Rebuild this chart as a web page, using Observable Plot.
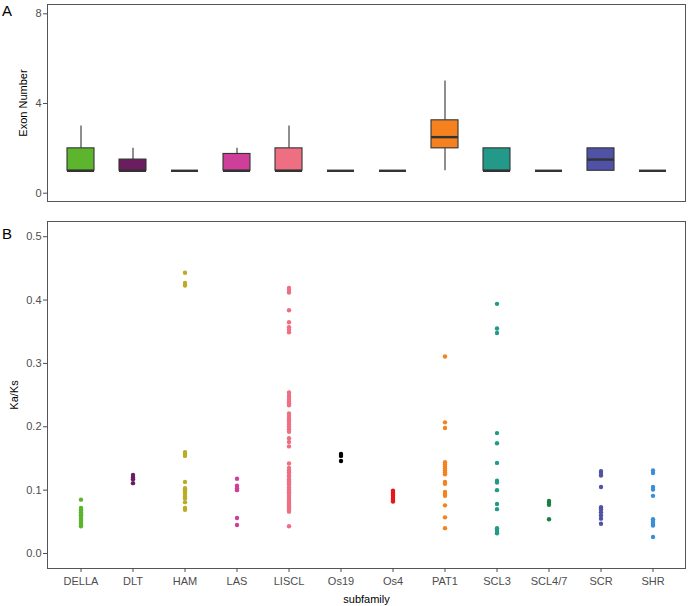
<!DOCTYPE html>
<html>
<head>
<meta charset="utf-8">
<script src="https://cdn.jsdelivr.net/npm/d3@7"></script>
<script src="https://cdn.jsdelivr.net/npm/@observablehq/plot@0.6"></script>
<style>
  body { margin: 0; background: #fff; font-family: "Liberation Sans", Arial, sans-serif; }
  #wrap { position: relative; width: 689px; height: 606px; }
  .tag { position: absolute; font-size: 15px; color: #000; }
  svg { display: block; }
</style>
</head>
<body>
<div id="wrap">
  <div id="panelA"></div>
  <div id="panelB"></div>
  <div class="tag" style="left:2px;top:2px;">A</div>
  <div class="tag" style="left:2px;top:225px;">B</div>
</div>
<script>
// Categories and colours
const subfamilies = ["DELLA","DLT","HAM","LAS","LISCL","Os19","Os4","PAT1","SCL3","SCL4/7","SCR","SHR"];
const colors = ["#5cb52c","#6b1d5f","#bcab25","#cd3f98","#ee6f82","#000000","#e5161c","#f5821f","#23998a","#1a8040","#5052a6","#3a8ed8"];

// Panel A: exon number box summaries
const exonLow    = [1, 1, 1, 1,    1, 1, 1, 1,    1, 1, 1,   1];
const exonQ1     = [1, 1, 1, 1,    1, 1, 1, 2,    1, 1, 1,   1];
const exonMedian = [1, 1, 1, 1,    1, 1, 1, 2.5,  1, 1, 1.5, 1];
const exonQ3     = [2, 1.5, 1, 1.75, 2, 1, 1, 3.25, 2, 1, 2,   1];
const exonHigh   = [3, 2, 1, 2,    3, 1, 1, 5,    2, 1, 2,   1];
const exonTicks  = [0, 4, 8];

// Panel B: Ka/Ks values per subfamily
const kaksDELLA = [0.085,0.072,0.070,0.068,0.065,0.062,0.060,0.058,0.055,0.053,0.050,0.047,0.045,0.043];
const kaksDLT   = [0.124,0.120,0.117,0.111];
const kaksHAM   = [0.443,0.427,0.423,0.160,0.157,0.154,0.113,0.103,0.100,0.097,0.094,0.090,0.087,0.081,0.072,0.069];
const kaksLAS   = [0.118,0.107,0.103,0.100,0.056,0.045];
const kaksLISCL = [0.419,0.416,0.412,0.384,0.365,0.357,0.353,0.349,0.254,0.250,0.247,0.244,0.240,0.237,0.234,
                   0.221,0.217,0.213,0.210,0.206,0.203,0.200,0.196,0.192,0.182,0.176,0.169,0.142,0.135,0.131,
                   0.128,0.124,0.121,0.117,0.114,0.111,0.108,0.104,0.101,0.098,0.095,0.091,0.088,0.085,0.082,
                   0.079,0.076,0.073,0.070,0.066,0.043];
const kaksOs19  = [0.157,0.154,0.146];
const kaksOs4   = [0.099,0.096,0.094,0.091,0.088,0.085,0.082];
const kaksPAT1  = [0.311,0.207,0.198,0.144,0.140,0.137,0.134,0.131,0.128,0.125,0.113,0.110,0.097,0.094,0.091,0.076,0.057,0.040];
const kaksSCL3  = [0.394,0.355,0.348,0.190,0.174,0.143,0.115,0.112,0.100,0.078,0.070,0.040,0.036,0.032];
const kaksSCL47 = [0.083,0.080,0.077,0.054];
const kaksSCR   = [0.130,0.127,0.123,0.105,0.073,0.070,0.065,0.060,0.055,0.047];
const kaksSHR   = [0.131,0.127,0.105,0.101,0.091,0.054,0.050,0.047,0.044,0.026];
const kaksTicks = [0.0, 0.1, 0.2, 0.3, 0.4, 0.5];

const kaksLists = [kaksDELLA,kaksDLT,kaksHAM,kaksLAS,kaksLISCL,kaksOs19,kaksOs4,kaksPAT1,kaksSCL3,kaksSCL47,kaksSCR,kaksSHR];

const boxes = subfamilies.map((s, i) => ({
  subfamily: s, low: exonLow[i], q1: exonQ1[i], median: exonMedian[i], q3: exonQ3[i], high: exonHigh[i]
}));
const points = subfamilies.flatMap((s, i) => kaksLists[i].map(v => ({subfamily: s, kaks: v})));

const xScale = {type: "band", domain: subfamilies, paddingInner: 0.49, paddingOuter: 0.345};
const colorScale = {domain: subfamilies, range: colors};
const font = "'Liberation Sans', Arial, sans-serif";

const chartA = Plot.plot({
  width: 689, height: 210,
  marginLeft: 47, marginRight: 4, marginTop: 4, marginBottom: 9,
  style: {fontFamily: font, fontSize: "11px", color: "#4d4d4d", background: "#fff"},
  x: {...xScale, axis: null},
  y: {domain: [-0.37, 8.415]},
  color: colorScale,
  marks: [
    Plot.frame({stroke: "#555", strokeWidth: 1}),
    Plot.ruleX(boxes, {x: "subfamily", y1: "low", y2: "q1", stroke: "#333", strokeWidth: 1.1}),
    Plot.ruleX(boxes, {x: "subfamily", y1: "q3", y2: "high", stroke: "#333", strokeWidth: 1.1}),
    Plot.barY(boxes, {x: "subfamily", y1: "q1", y2: "q3", fill: "subfamily", stroke: "#333", strokeWidth: 1.1}),
    Plot.tickY(boxes, {x: "subfamily", y: "median", stroke: "#333", strokeWidth: 2.4}),
    Plot.axisY({ticks: exonTicks, tickSize: 4, tickPadding: 2, tickFormat: d => String(d),
      label: "Exon Number", labelArrow: false, labelAnchor: "center", labelOffset: 28}),
  ]
});

const chartB = Plot.plot({
  width: 689, height: 396,
  marginLeft: 47, marginRight: 4, marginTop: 11, marginBottom: 38,
  style: {fontFamily: font, fontSize: "11px", color: "#4d4d4d", background: "#fff"},
  x: {...xScale},
  y: {domain: [-0.0237, 0.524]},
  color: colorScale,
  marks: [
    Plot.frame({stroke: "#555", strokeWidth: 1}),
    Plot.dot(points, {x: "subfamily", y: "kaks", fill: "subfamily", r: 2.2}),
    Plot.axisY({ticks: kaksTicks, tickSize: 4, tickPadding: 2, tickFormat: d3.format(".1f"),
      label: "Ka/Ks", labelArrow: false, labelAnchor: "center", labelOffset: 37}),
    Plot.axisX({tickSize: 4, tickPadding: 5, label: "subfamily", labelArrow: false, labelAnchor: "center", labelOffset: 34}),
  ]
});

// axis titles in black, and strip any arrow that remains
for (const svg of [chartA, chartB]) {
  svg.querySelectorAll("[aria-label='y-axis label'], [aria-label='x-axis label']").forEach(g => {
    g.setAttribute("fill", "#000");
    g.querySelectorAll("text").forEach(t => {
      t.setAttribute("fill", "#000");
      t.textContent = t.textContent.replace(/\s*[↑↓←→]\s*/g, "");
    });
  });
}
document.getElementById("panelA").append(chartA);
document.getElementById("panelB").append(chartB);
</script>
</body>
</html>
